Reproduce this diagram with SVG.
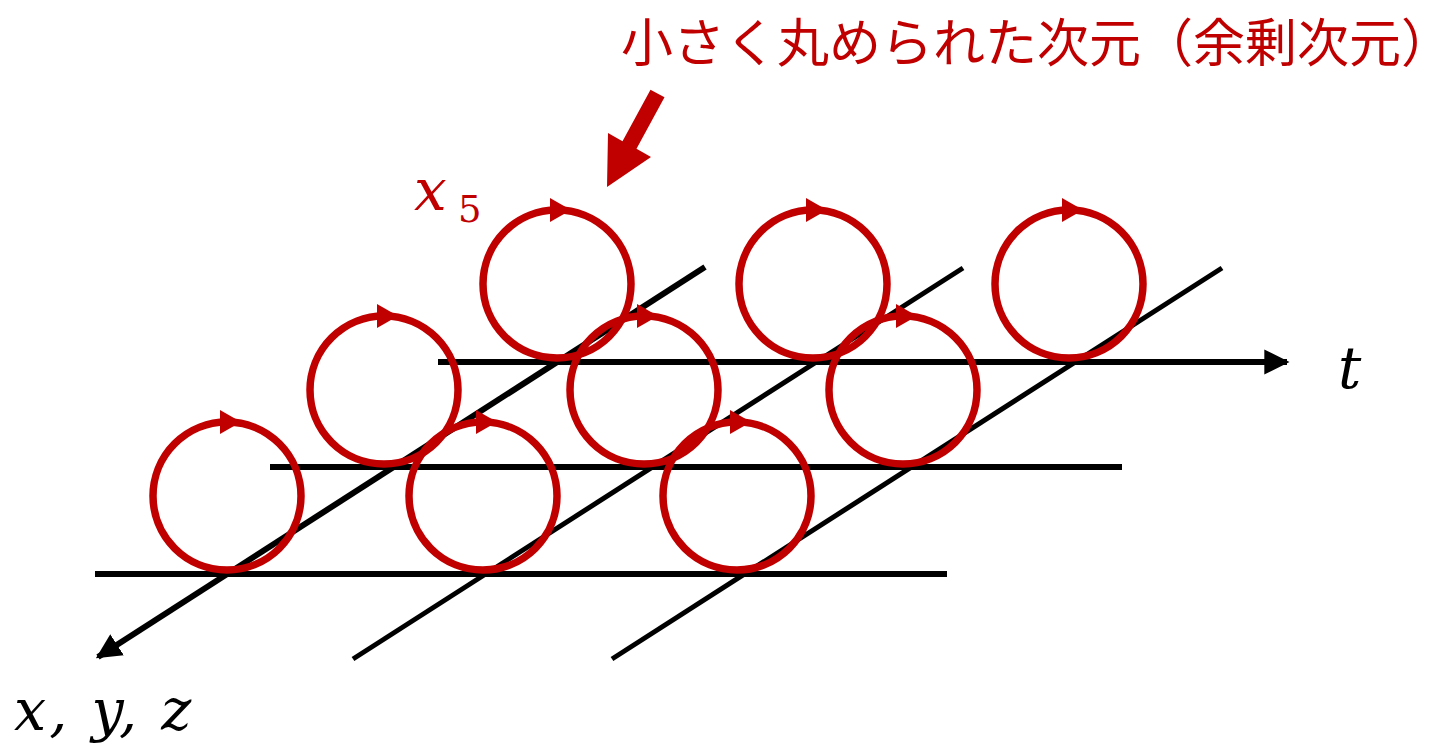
<svg xmlns="http://www.w3.org/2000/svg" width="1454" height="748" viewBox="0 0 1454 748">
<style>
.ax{stroke:#000;stroke-width:6;fill:none}
.ring{stroke:#C00000;stroke-width:7.5;fill:none}
.head{fill:#C00000}
.math{font-family:"DejaVu Serif","Liberation Serif",serif;font-style:italic}
.title{font-family:"Noto Sans CJK JP",sans-serif;fill:#C00000;font-size:52px}
</style>
<defs>
<marker id="ah" viewBox="0 0 10 10" refX="9" refY="5" markerWidth="4.2" markerHeight="4.2" orient="auto" markerUnits="strokeWidth">
<path d="M0,0 L10,5 L0,10 z" fill="#000"/>
</marker>
<g id="ringProto">
<circle cx="0" cy="0" r="74" class="ring"/>
<path d="M-7,-86 L14,-74 L-7,-62 z" class="head"/>
</g>
</defs>
<g id="connectors">
<line class="ax" x1="95" y1="574" x2="947" y2="574"/>
<line class="ax" x1="270" y1="467" x2="1122" y2="467"/>
<line class="ax" x1="438" y1="362" x2="1287" y2="362" marker-end="url(#ah)"/>
<line class="ax" x1="705" y1="267" x2="98" y2="657" marker-end="url(#ah)"/>
<line class="ax" x1="963" y1="268" x2="353" y2="659" style="stroke-width:5"/>
<line class="ax" x1="1222" y1="268" x2="612" y2="659" style="stroke-width:5"/>
</g>
<g id="rings">
<use href="#ringProto" x="227" y="496"/>
<use href="#ringProto" x="483" y="496"/>
<use href="#ringProto" x="737" y="496"/>
<use href="#ringProto" x="384" y="390"/>
<use href="#ringProto" x="644" y="390"/>
<use href="#ringProto" x="903" y="390"/>
<use href="#ringProto" x="557" y="284"/>
<use href="#ringProto" x="813" y="284"/>
<use href="#ringProto" x="1069" y="284"/>
</g>
<g id="bigArrow">
<polygon fill="#C00000" points="650.5,89.7 664.5,97.3 636.5,148.8 651,157 607,187 608,133 622.5,141.2"/>
</g>
<g id="title">
<text class="title" x="621" y="62">小さく丸められた次元（余剰次元）</text>
</g>
<g id="labelX5">
<text class="math" x="414" y="210" font-size="58" fill="#C00000">x</text>
<text font-family="DejaVu Serif, serif" x="458" y="222" font-size="37" fill="#C00000">5</text>
</g>
<g id="labelT">
<text class="math" x="1338" y="388" font-size="58">t</text>
</g>
<g id="labelXYZ">
<text class="math" x="14" y="730" font-size="57" letter-spacing="3">x, y, z</text>
</g>
</svg>
